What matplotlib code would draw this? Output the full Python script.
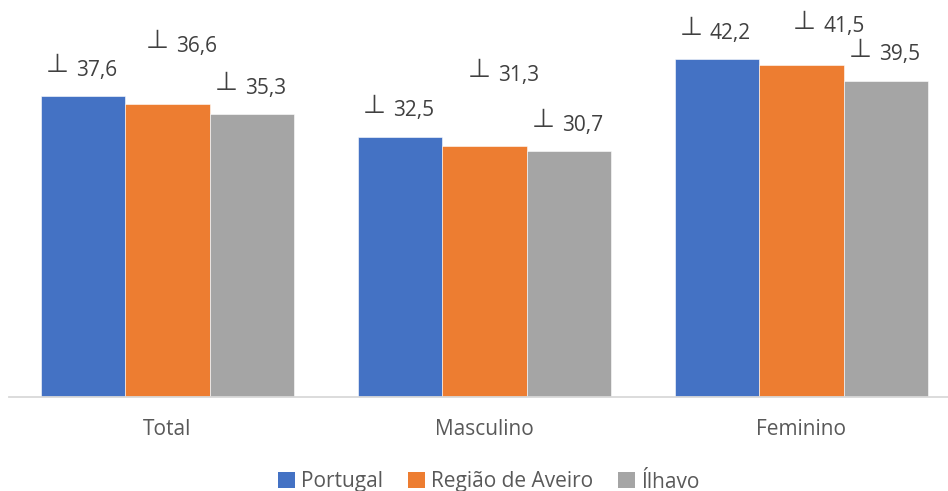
import matplotlib
matplotlib.use("Agg")
import matplotlib.pyplot as plt
import numpy as np
from matplotlib.patches import Patch

categories = ["Total", "Masculino", "Feminino"]
series = ["Portugal", "Região de Aveiro", "Ílhavo"]
portugal = [37.6, 32.5, 42.2]
aveiro = [36.6, 31.3, 41.5]
ilhavo = [35.3, 30.7, 39.5]

colors = ["#4472C4", "#ED7D31", "#A5A5A5"]
text_color = "#595959"
# label offsets in pixels (dx, dy above bar top), one row per series
label_dx = [[0, 0, 0], [16, 21, 29], [0, 0, 0]]
label_dy = [[26, 26, 26], [58, 71, 38], [26, 26, 26]]

plt.rcParams["font.family"] = ["Open Sans", "DejaVu Sans"]

W, H = 948, 491
fig = plt.figure(figsize=(W / 100, H / 100), dpi=100)
ax = fig.add_axes([9 / W, (H - 397) / H, (W - 9) / W, 397 / H])

x = np.arange(len(categories))
bw = 0.8 / 3
values = [portugal, aveiro, ilhavo]
for i, (vals, c) in enumerate(zip(values, colors)):
    pos = x + (i - 1) * bw
    ax.bar(pos, vals, width=bw, color=c, edgecolor="white", linewidth=0.4, zorder=2)
    for j, (p, v) in enumerate(zip(pos, vals)):
        dx, dy = label_dx[i][j], label_dy[i][j]
        ax.annotate("⊥", (p, v), xytext=(dx - 26, dy + 5), textcoords="offset pixels",
                    ha="center", va="center", fontsize=19, color="#404040",
                    family=["DejaVu Sans"])
        ax.annotate(f"{v:.1f}".replace(".", ","), (p, v), xytext=(dx - 7, dy),
                    textcoords="offset pixels", ha="left", va="center",
                    fontsize=15, color="#404040")

ax.set_xlim(-0.5, -0.5 + (W - 9) / 317)
ax.set_ylim(0, 397 / 8.005)
ax.set_yticks([])
ax.set_xticks(x)
ax.set_xticklabels(categories, fontsize=15, color=text_color)
ax.tick_params(axis="x", length=0, pad=16)
for s in ["top", "right", "left"]:
    ax.spines[s].set_visible(False)
ax.spines["bottom"].set_color("#D9D9D9")
ax.spines["bottom"].set_linewidth(1.3)

handles = [Patch(facecolor=c, label=s) for c, s in zip(colors, series)]
fig.legend(handles=handles, loc="center", bbox_to_anchor=(489 / W, 1 - 482 / H), ncol=3,
           frameon=False, fontsize=15, labelcolor=text_color, handlelength=0.8,
           handleheight=0.8, handletextpad=0.3, columnspacing=1.2)

fig.savefig("out.png", dpi=100)
